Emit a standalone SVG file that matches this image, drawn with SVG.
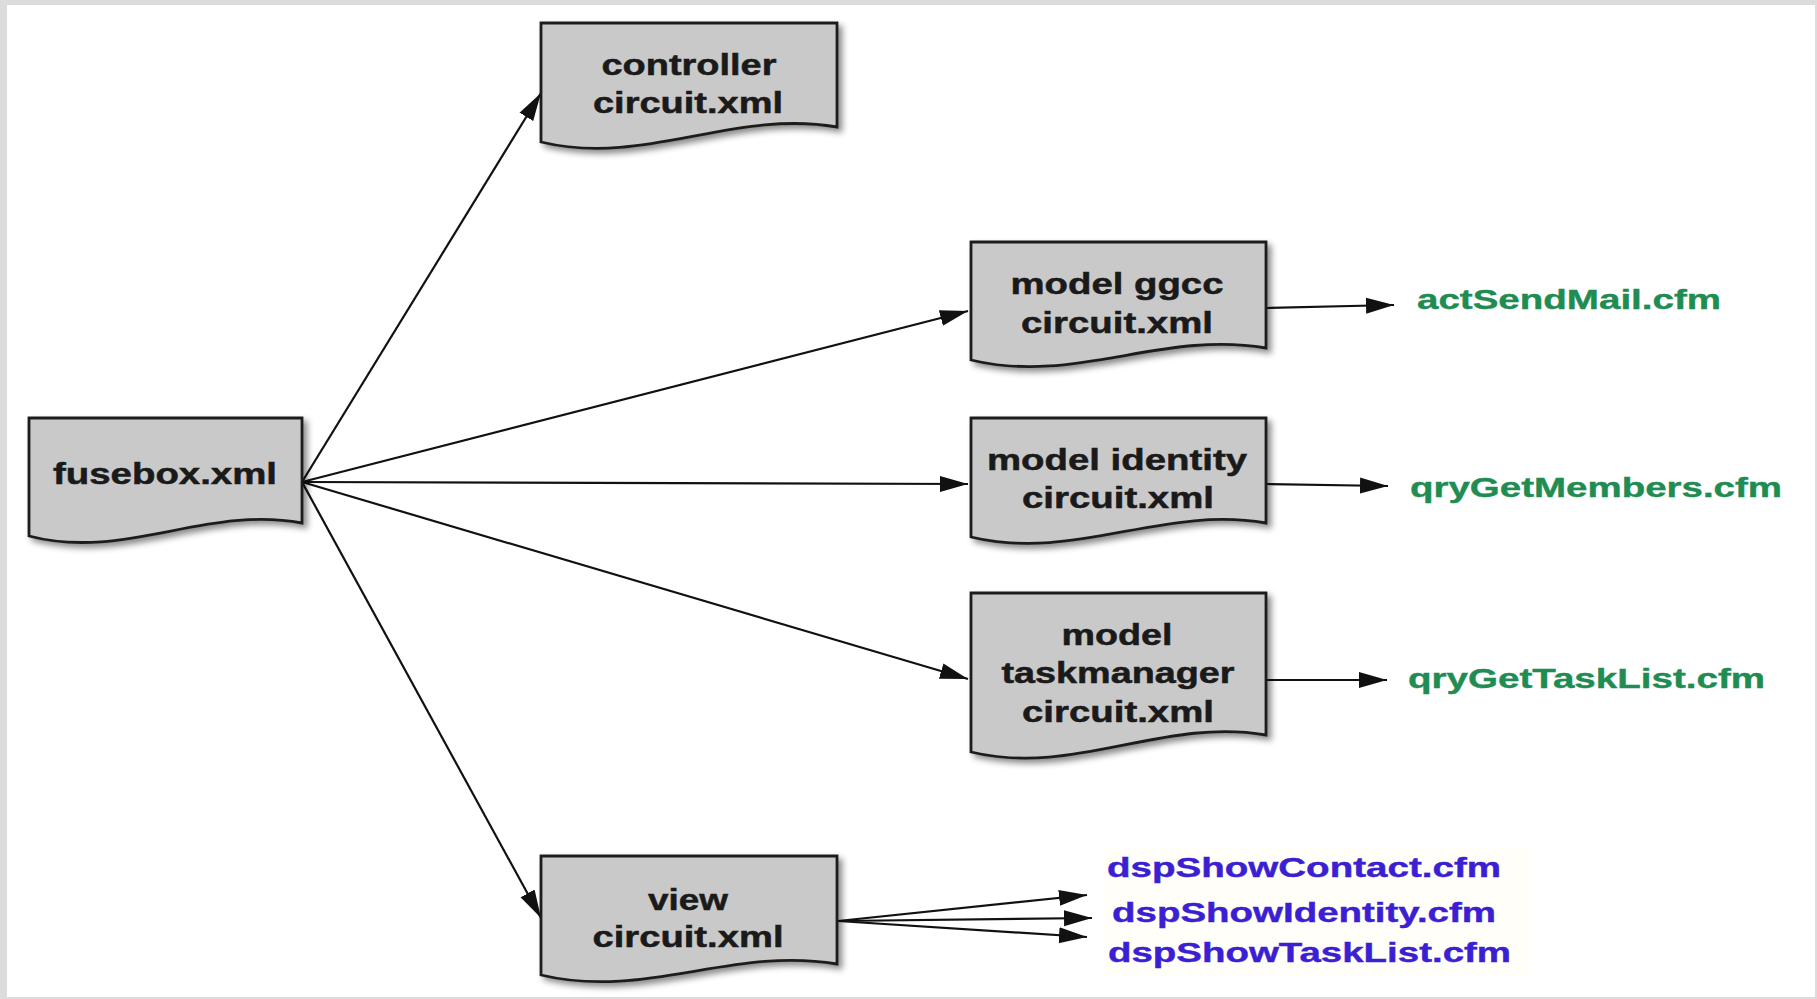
<svg xmlns="http://www.w3.org/2000/svg" width="1817" height="999" viewBox="0 0 1817 999">
  <style>
    .doc { fill: #c9c9c9; stroke: #1e1e1e; stroke-width: 2.8; filter: url(#shadow); }
    .lbl { font-family: "Liberation Sans", Arial, sans-serif; font-weight: bold; font-size: 29px; fill: #1a1a1a; stroke: #1a1a1a; stroke-width: 0.5; text-anchor: middle; }
    .out { font-family: "Liberation Sans", Arial, sans-serif; font-weight: bold; font-size: 27px; stroke-width: 0.4; }
    .green { fill: #1f8c52; stroke: #1f8c52; }
    .blue { fill: #3a20d2; stroke: #3a20d2; }
    .edge { stroke: #111; stroke-width: 2.2; fill: none; marker-end: url(#arrow); }
  </style>
  <defs>
    <filter id="shadow" x="-10%" y="-10%" width="130%" height="140%">
      <feDropShadow dx="4" dy="4" stdDeviation="3" flood-color="#000" flood-opacity="0.45"/>
    </filter>
    <marker id="arrow" markerUnits="userSpaceOnUse" markerWidth="30" markerHeight="18" refX="28" refY="9" orient="auto">
      <path d="M0,1 L28,9 L0,17 Z" fill="#111"/>
    </marker>
  </defs>

  <!-- page frame -->
  <rect x="0" y="0" width="1817" height="999" fill="#dcdcdc"/>
  <rect x="7" y="5" width="1808" height="992" fill="#ffffff"/>

  <!-- connectors -->
  <g id="connectors">
    <line class="edge" x1="302" y1="482" x2="541" y2="93"/>
    <line class="edge" x1="302" y1="482" x2="968" y2="311"/>
    <line class="edge" x1="302" y1="482" x2="968" y2="484"/>
    <line class="edge" x1="302" y1="482" x2="968" y2="679"/>
    <line class="edge" x1="302" y1="482" x2="541" y2="918"/>
    <line class="edge" x1="1267" y1="308" x2="1394" y2="305"/>
    <line class="edge" x1="1267" y1="484" x2="1388" y2="486"/>
    <line class="edge" x1="1267" y1="680" x2="1387" y2="680"/>
    <line class="edge" x1="838" y1="921" x2="1087" y2="895"/>
    <line class="edge" x1="838" y1="921" x2="1092" y2="918"/>
    <line class="edge" x1="838" y1="921" x2="1087" y2="937"/>
  </g>

  <!-- document nodes -->
  <g id="fusebox">
    <path class="doc" d="M29,418 H302 V523 C206,505 124,561 29,536 Z"/>
    <text class="lbl" x="165" y="484" textLength="224" lengthAdjust="spacingAndGlyphs">fusebox.xml</text>
  </g>

  <g id="controller">
    <path class="doc" d="M541,23 H837 V127 C733,109 645,167 541,142 Z"/>
    <text class="lbl" x="689" y="75" textLength="175" lengthAdjust="spacingAndGlyphs">controller</text>
    <text class="lbl" x="688" y="113" textLength="190" lengthAdjust="spacingAndGlyphs">circuit.xml</text>
  </g>

  <g id="model-ggcc">
    <path class="doc" d="M971,242 H1266 V348 C1163,330 1074,385 971,360 Z"/>
    <text class="lbl" x="1117" y="294" textLength="213" lengthAdjust="spacingAndGlyphs">model ggcc</text>
    <text class="lbl" x="1117" y="333" textLength="192" lengthAdjust="spacingAndGlyphs">circuit.xml</text>
  </g>

  <g id="model-identity">
    <path class="doc" d="M971,418 H1266 V523 C1163,505 1074,562 971,537 Z"/>
    <text class="lbl" x="1117" y="470" textLength="260" lengthAdjust="spacingAndGlyphs">model identity</text>
    <text class="lbl" x="1118" y="508" textLength="192" lengthAdjust="spacingAndGlyphs">circuit.xml</text>
  </g>

  <g id="model-taskmanager">
    <path class="doc" d="M971,593 H1266 V735 C1163,717 1074,777 971,752 Z"/>
    <text class="lbl" x="1117" y="645" textLength="111" lengthAdjust="spacingAndGlyphs">model</text>
    <text class="lbl" x="1118" y="683" textLength="233" lengthAdjust="spacingAndGlyphs">taskmanager</text>
    <text class="lbl" x="1118" y="722" textLength="192" lengthAdjust="spacingAndGlyphs">circuit.xml</text>
  </g>

  <g id="view">
    <path class="doc" d="M541,856 H837 V964 C733,946 645,1000 541,975 Z"/>
    <text class="lbl" x="688" y="910" textLength="80" lengthAdjust="spacingAndGlyphs">view</text>
    <text class="lbl" x="688" y="947" textLength="191" lengthAdjust="spacingAndGlyphs">circuit.xml</text>
  </g>

  <!-- model outputs -->
  <g id="actSendMail">
    <text class="out green" x="1417" y="309" textLength="304" lengthAdjust="spacingAndGlyphs">actSendMail.cfm</text>
  </g>
  <g id="qryGetMembers">
    <text class="out green" x="1410" y="497" textLength="372" lengthAdjust="spacingAndGlyphs">qryGetMembers.cfm</text>
  </g>
  <g id="qryGetTaskList">
    <text class="out green" x="1408" y="688" textLength="357" lengthAdjust="spacingAndGlyphs">qryGetTaskList.cfm</text>
  </g>

  <!-- view outputs on a pale label background -->
  <rect x="1102" y="846" width="428" height="132" fill="#fffef8"/>
  <g id="dspShowContact">
    <text class="out blue" x="1107" y="877" textLength="394" lengthAdjust="spacingAndGlyphs">dspShowContact.cfm</text>
  </g>
  <g id="dspShowIdentity">
    <text class="out blue" x="1112" y="922" textLength="384" lengthAdjust="spacingAndGlyphs">dspShowIdentity.cfm</text>
  </g>
  <g id="dspShowTaskList">
    <text class="out blue" x="1108" y="962" textLength="403" lengthAdjust="spacingAndGlyphs">dspShowTaskList.cfm</text>
  </g>
</svg>
